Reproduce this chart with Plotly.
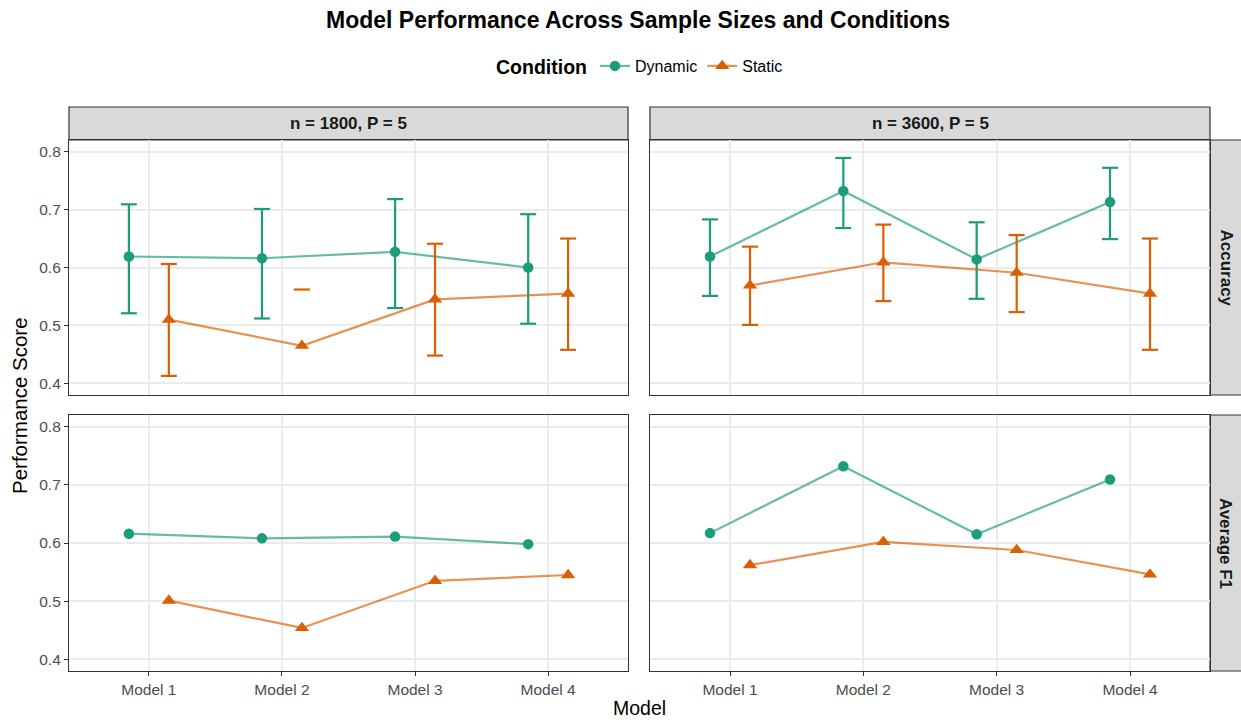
import plotly.graph_objects as go

W, H = 1241, 722

models = ["Model 1", "Model 2", "Model 3", "Model 4"]
conditions = ["Dynamic", "Static"]
samples = ["n = 1800, P = 5", "n = 3600, P = 5"]
metrics = ["Accuracy", "Average F1"]

# Accuracy means and error-bar bounds
acc_1800_dyn = [0.619, 0.616, 0.627, 0.600]
acc_1800_dyn_lo = [0.521, 0.512, 0.530, 0.503]
acc_1800_dyn_hi = [0.709, 0.701, 0.718, 0.692]
acc_1800_sta = [0.510, 0.465, 0.545, 0.555]
acc_1800_sta_lo = [0.413, None, 0.448, 0.458]   # lower bound of Model 2 falls outside the scale
acc_1800_sta_hi = [0.606, 0.562, 0.641, 0.650]

acc_3600_dyn = [0.619, 0.732, 0.614, 0.713]
acc_3600_dyn_lo = [0.551, 0.668, 0.546, 0.649]
acc_3600_dyn_hi = [0.683, 0.789, 0.678, 0.772]
acc_3600_sta = [0.569, 0.609, 0.591, 0.555]
acc_3600_sta_lo = [0.501, 0.542, 0.523, 0.458]
acc_3600_sta_hi = [0.636, 0.674, 0.656, 0.650]

# Average F1 means
f1_1800_dyn = [0.616, 0.608, 0.611, 0.598]
f1_1800_sta = [0.501, 0.454, 0.535, 0.545]
f1_3600_dyn = [0.617, 0.732, 0.615, 0.709]
f1_3600_sta = [0.562, 0.602, 0.588, 0.546]

y_ticks = [0.4, 0.5, 0.6, 0.7, 0.8]
y_range = [0.38, 0.82]

colors = {"Dynamic": "#1B9E77", "Static": "#D95F02"}
line_colors = {"Dynamic": "rgba(27,158,119,0.68)", "Static": "rgba(217,95,2,0.68)"}
symbols = {"Dynamic": "circle", "Static": "triangle-up"}
msize = {"Dynamic": 10.5, "Static": 12.5}
dodge = {"Dynamic": -0.15, "Static": 0.15}
cap_half = 0.06

FONT = "Liberation Sans, Arial, Helvetica, sans-serif"

data = {
    (0, 0): {"Dynamic": (acc_1800_dyn, acc_1800_dyn_lo, acc_1800_dyn_hi),
             "Static": (acc_1800_sta, acc_1800_sta_lo, acc_1800_sta_hi)},
    (0, 1): {"Dynamic": (acc_3600_dyn, acc_3600_dyn_lo, acc_3600_dyn_hi),
             "Static": (acc_3600_sta, acc_3600_sta_lo, acc_3600_sta_hi)},
    (1, 0): {"Dynamic": (f1_1800_dyn, None, None),
             "Static": (f1_1800_sta, None, None)},
    (1, 1): {"Dynamic": (f1_3600_dyn, None, None),
             "Static": (f1_3600_sta, None, None)},
}

# pixel geometry -> paper fractions
col_px = [(69, 628), (650, 1210)]
row_px = [(140, 395), (415, 671)]

def xdom(c):
    a, b = col_px[c]
    return [a / W, b / W]

def ydom(r):
    a, b = row_px[r]
    return [1 - b / H, 1 - a / H]

fig = go.Figure()

axis_idx = {(0, 0): 1, (0, 1): 2, (1, 0): 3, (1, 1): 4}

for (r, c), series in data.items():
    k = axis_idx[(r, c)]
    xa = "x" if k == 1 else f"x{k}"
    ya = "y" if k == 1 else f"y{k}"
    for cond in conditions:
        vals, lo, hi = series[cond]
        xs = [i + 1 + dodge[cond] for i in range(len(models))]
        if lo is not None:
            ex, ey = [], []
            for x, l, h in zip(xs, lo, hi):
                if l is not None and h is not None:
                    ex += [x, x, None]
                    ey += [l, h, None]
                for b in (l, h):
                    if b is not None:
                        ex += [x - cap_half, x + cap_half, None]
                        ey += [b, b, None]
            fig.add_trace(go.Scatter(
                x=ex, y=ey, mode="lines", xaxis=xa, yaxis=ya,
                line=dict(color=colors[cond], width=2.2),
                showlegend=False, hoverinfo="skip"))
        fig.add_trace(go.Scatter(
            x=xs, y=vals, mode="lines+markers", name=cond, xaxis=xa, yaxis=ya,
            legendgroup=cond, showlegend=(k == 1),
            line=dict(color=line_colors[cond], width=2.2),
            marker=dict(color=colors[cond], symbol=symbols[cond], size=msize[cond],
                        line=dict(width=0))))

common_x = dict(range=[0.4, 4.6], tickvals=[1, 2, 3, 4], ticktext=models,
                showgrid=True, gridcolor="#EBEBEB", gridwidth=1.5, zeroline=False,
                showline=True, mirror=True, linecolor="#333333", linewidth=1.2,
                ticks="outside", ticklen=4, tickcolor="#333333", tickwidth=1.2,
                tickfont=dict(family=FONT, size=15.5, color="#4D4D4D"))
common_y = dict(range=y_range, tickvals=y_ticks, ticktext=[f"{v:.1f}" for v in y_ticks],
                showgrid=True, gridcolor="#EBEBEB", gridwidth=1.5, zeroline=False,
                showline=True, mirror=True, linecolor="#333333", linewidth=1.2,
                ticks="outside", ticklen=4, tickcolor="#333333", tickwidth=1.2,
                tickfont=dict(family=FONT, size=15.5, color="#4D4D4D"))

layout_axes = {}
for (r, c), k in axis_idx.items():
    xname = "xaxis" if k == 1 else f"xaxis{k}"
    yname = "yaxis" if k == 1 else f"yaxis{k}"
    xa = dict(common_x, domain=xdom(c), anchor="y" if k == 1 else f"y{k}")
    ya = dict(common_y, domain=ydom(r), anchor="x" if k == 1 else f"x{k}")
    if r == 0:
        xa.update(showticklabels=False, ticks="")
    if c == 1:
        ya.update(showticklabels=False, ticks="")
    layout_axes[xname] = xa
    layout_axes[yname] = ya

shapes = []
annotations = []
# top strips
for c in range(2):
    a, b = col_px[c]
    shapes.append(dict(type="rect", xref="paper", yref="paper",
                       x0=a / W, x1=b / W, y0=1 - 140 / H, y1=1 - 107 / H,
                       fillcolor="#D9D9D9", line=dict(color="#333333", width=1.2), layer="below"))
    annotations.append(dict(text=f"<b>{samples[c]}</b>", xref="paper", yref="paper",
                            x=(a + b) / 2 / W, y=1 - 123.5 / H, showarrow=False,
                            xanchor="center", yanchor="middle",
                            font=dict(family=FONT, size=17, color="#1A1A1A")))
# right strips
for r in range(2):
    a, b = row_px[r]
    shapes.append(dict(type="rect", xref="paper", yref="paper",
                       x0=1210 / W, x1=1250 / W, y0=1 - b / H, y1=1 - a / H,
                       fillcolor="#D9D9D9", line=dict(color="#333333", width=1.2), layer="below"))
    annotations.append(dict(text=f"<b>{metrics[r]}</b>", xref="paper", yref="paper",
                            x=1226 / W, y=1 - (a + b) / 2 / H, showarrow=False,
                            textangle=90, xanchor="center", yanchor="middle",
                            font=dict(family=FONT, size=17, color="#1A1A1A")))

# axis titles
annotations.append(dict(text="Model", xref="paper", yref="paper", x=640 / W, y=1 - 708 / H,
                        showarrow=False, xanchor="center", yanchor="middle",
                        font=dict(family=FONT, size=19.5, color="#000000")))
annotations.append(dict(text="Performance Score", xref="paper", yref="paper", x=20 / W,
                        y=1 - 406 / H, showarrow=False, textangle=-90,
                        xanchor="center", yanchor="middle",
                        font=dict(family=FONT, size=20.5, color="#000000")))
# title
annotations.append(dict(text="<b>Model Performance Across Sample Sizes and Conditions</b>",
                        xref="paper", yref="paper", x=638 / W, y=1 - 20 / H,
                        showarrow=False, xanchor="center", yanchor="middle",
                        font=dict(family=FONT, size=23, color="#000000")))

fig.update_layout(
    width=W, height=H,
    margin=dict(l=0, r=0, t=0, b=0),
    paper_bgcolor="white", plot_bgcolor="white",
    showlegend=True,
    legend=dict(orientation="h", x=641 / W, y=1 - 67 / H, xanchor="center", yanchor="middle",
                title=dict(text="<b>Condition</b>", font=dict(family=FONT, size=19.5, color="#000000"),
                           side="left"),
                font=dict(family=FONT, size=16, color="#000000"),
                itemwidth=30, tracegroupgap=0, bgcolor="rgba(0,0,0,0)"),
    shapes=shapes, annotations=annotations,
    **layout_axes,
)

fig.write_html("out.html",
               config={"displayModeBar": False},
               post_script="document.body.style.margin='0';document.body.style.padding='0';"
                           "document.documentElement.style.overflow='hidden';")
